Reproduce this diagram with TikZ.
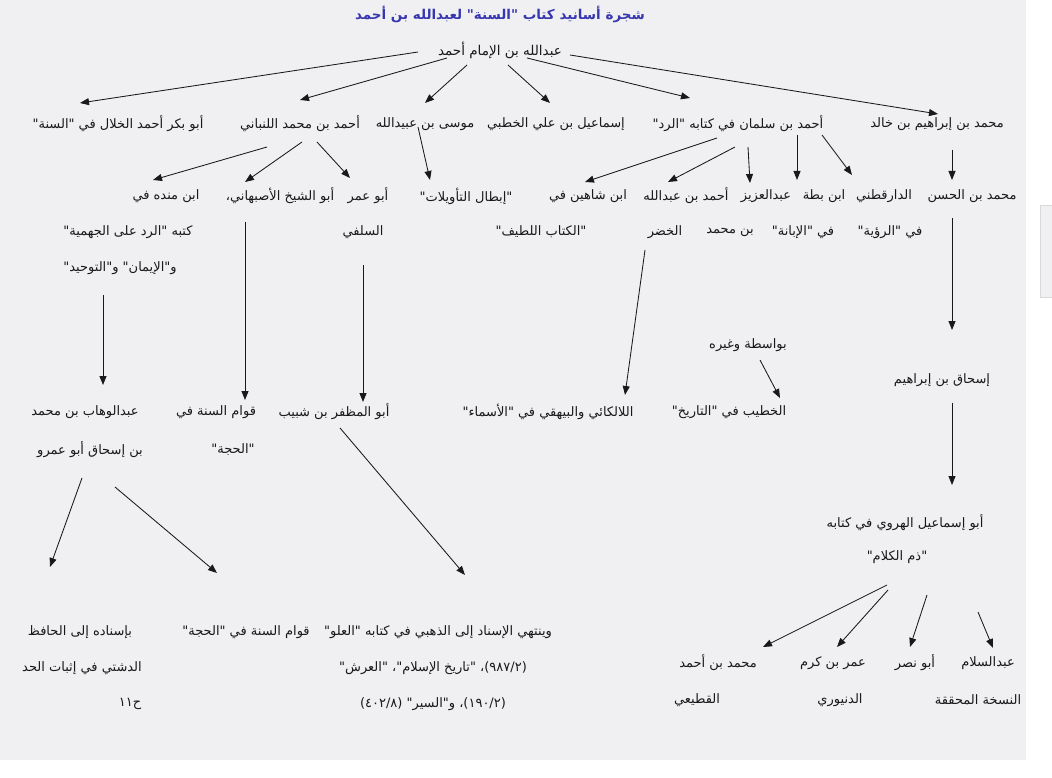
\documentclass[tikz,border=0pt]{standalone}
\usepackage{fontspec}
\setmainfont{DejaVu Sans}
\newfontfamily\arabicfont[Script=Arabic]{DejaVu Sans}
\TeXXeTstate=1
\usetikzlibrary{arrows.meta}
\definecolor{panelbg}{RGB}{240,240,242}
\definecolor{titleblue}{RGB}{55,55,175}
\definecolor{inkc}{RGB}{25,25,25}
\newcommand{\rtl}[1]{\beginR #1\endR}
\begin{document}
\begin{tikzpicture}[x=1pt,y=-1pt,
  lbl/.style={inner sep=1pt,text=inkc,font=\arabicfont\fontsize{13}{15}\selectfont},
  ttl/.style={inner sep=1pt,text=titleblue,font=\arabicfont\bfseries\fontsize{13.5}{15}\selectfont},
  arr/.style={draw=inkc,line width=0.85pt,-{Triangle[length=9pt,width=7pt]}}]
\useasboundingbox (0,0) rectangle (1052,778);
\fill[white] (0,0) rectangle (1052,778);
\fill[panelbg] (0,0) rectangle (1026,760);
\filldraw[fill=panelbg,draw=black!15] (1040,205) rectangle (1054,297);

% title and root
\node[ttl] (title) at (500,14) {\rtl{شجرة أسانيد كتاب "السنة" لعبدالله بن أحمد}};
\node[lbl,font=\arabicfont\fontsize{13.5}{15}\selectfont] (root) at (500,50) {\rtl{عبدالله بن الإمام أحمد}};

% row 1
\node[lbl] (a1) at (937,124) {\rtl{محمد بن إبراهيم بن خالد}};
\node[lbl] (a2) at (738,124) {\rtl{أحمد بن سلمان في كتابه "الرد"}};
\node[lbl] (a3) at (556,124) {\rtl{إسماعيل بن علي الخطبي}};
\node[lbl] (a4) at (425,124) {\rtl{موسى بن عبيدالله}};
\node[lbl] (a5) at (300,124) {\rtl{أحمد بن محمد اللنباني}};
\node[lbl] (a6) at (118,124) {\rtl{أبو بكر أحمد الخلال في "السنة"}};

% row 2
\node[lbl] (b1) at (972,196) {\rtl{محمد بن الحسن}};
\node[lbl] (b2) at (884,196) {\rtl{الدارقطني}};
\node[lbl] (b3) at (824,196) {\rtl{ابن بطة}};
\node[lbl] (b4) at (766,196) {\rtl{عبدالعزيز}};
\node[lbl] (b5) at (686,196) {\rtl{أحمد بن عبدالله}};
\node[lbl] (b6) at (588,196) {\rtl{ابن شاهين في}};
\node[lbl] (b7) at (466,196) {\rtl{"إبطال التأويلات"}};
\node[lbl] (b8) at (368,196) {\rtl{أبو عمر}};
\node[lbl] (b9) at (280,196) {\rtl{أبو الشيخ الأصبهاني،}};
\node[lbl] (b10) at (166,196) {\rtl{ابن منده في}};

% row 3 / 4
\node[lbl] (c2) at (890,232) {\rtl{في "الرؤية"}};
\node[lbl] (c3) at (803,232) {\rtl{في "الإبانة"}};
\node[lbl] (c4) at (730,232) {\rtl{بن محمد}};
\node[lbl] (c5) at (665,232) {\rtl{الخضر}};
\node[lbl] (c6) at (541,232) {\rtl{"الكتاب اللطيف"}};
\node[lbl] (c8) at (363,232) {\rtl{السلفي}};
\node[lbl] (c10) at (128,232) {\rtl{كتبه "الرد على الجهمية"}};
\node[lbl] (d10) at (120,268) {\rtl{و"الإيمان" و"التوحيد"}};

\node[lbl] (e1) at (748,345) {\rtl{بواسطة وغيره}};
\node[lbl] (f1) at (942,380) {\rtl{إسحاق بن إبراهيم}};

% row 6 / 7
\node[lbl] (g1) at (85,412) {\rtl{عبدالوهاب بن محمد}};
\node[lbl] (g2) at (216,412) {\rtl{قوام السنة في}};
\node[lbl] (g3) at (334,412) {\rtl{أبو المظفر بن شبيب}};
\node[lbl] (g4) at (548,412) {\rtl{اللالكائي والبيهقي في "الأسماء"}};
\node[lbl] (g5) at (729,412) {\rtl{الخطيب في "التاريخ"}};
\node[lbl] (h1) at (90,450) {\rtl{بن إسحاق أبو عمرو}};
\node[lbl] (h2) at (233,450) {\rtl{"الحجة"}};

\node[lbl] (i1) at (905,523) {\rtl{أبو إسماعيل الهروي في كتابه}};
\node[lbl] (i2) at (897,557) {\rtl{"ذم الكلام"}};

% bottom left
\node[lbl] (j1) at (80,632) {\rtl{بإسناده إلى الحافظ}};
\node[lbl] (j2) at (82,668) {\rtl{الدشتي في إثبات الحد}};
\node[lbl] (j3) at (130,704) {\rtl{ح١١}};
\node[lbl] (k1) at (246,632) {\rtl{قوام السنة في "الحجة"}};
\node[lbl] (l1) at (438,632) {\rtl{وينتهي الإسناد إلى الذهبي في كتابه "العلو"}};
\node[lbl] (l2) at (433,668) {\rtl{\beginL(٩٨٧/٢)\endL{}، "تاريخ الإسلام"، "العرش"}};
\node[lbl] (l3) at (433,704) {\rtl{\beginL(١٩٠/٢)\endL{}، و"السير" \beginL(٤٠٢/٨)\endL{}}};

% bottom right
\node[lbl] (m1) at (718,663) {\rtl{محمد بن أحمد}};
\node[lbl] (m2) at (833,663) {\rtl{عمر بن كرم}};
\node[lbl] (m3) at (915,663) {\rtl{أبو نصر}};
\node[lbl] (m4) at (988,663) {\rtl{عبدالسلام}};
\node[lbl] (n1) at (697,700) {\rtl{القطيعي}};
\node[lbl] (n2) at (840,700) {\rtl{الدنيوري}};
\node[lbl] (n3) at (978,700) {\rtl{النسخة المحققة}};

% connectors
\draw[arr] ([shift={(-82,2)}]root.center) -- ([shift={(-38,-21)}]a6.center);
\draw[arr] ([shift={(-53,8)}]root.center) -- ([shift={(0,-24)}]a5.center);
\draw[arr] ([shift={(-33,15)}]root.center) -- ([shift={(0,-21)}]a4.center);
\draw[arr] ([shift={(8,15)}]root.center) -- ([shift={(-6,-21)}]a3.center);
\draw[arr] ([shift={(27,8)}]root.center) -- ([shift={(-48,-26)}]a2.center);
\draw[arr] ([shift={(70,5)}]root.center) -- ([shift={(1,-10)}]a1.center);

\draw[arr] ([shift={(-21,14)}]a2.center) -- ([shift={(-3,-14)}]b6.center);
\draw[arr] ([shift={(-3,23)}]a2.center) -- ([shift={(-18,-14)}]b5.center);
\draw[arr] ([shift={(10,23)}]a2.center) -- ([shift={(-16,-13)}]b4.center);
\draw[arr] ([shift={(59,11)}]a2.center) -- ([shift={(-27,-16)}]b3.center);
\draw[arr] ([shift={(84,11)}]a2.center) -- ([shift={(-32,-21)}]b2.center);
\draw[arr] ([shift={(15,26)}]a1.center) -- ([shift={(-20,-16)}]b1.center);

\draw[arr] ([shift={(-7,3)}]a4.center) -- ([shift={(-36,-16)}]b7.center);
\draw[arr] ([shift={(-33,23)}]a5.center) -- ([shift={(-13,-16)}]b10.center);
\draw[arr] ([shift={(2,18)}]a5.center) -- ([shift={(-35,-14)}]b9.center);
\draw[arr] ([shift={(17,18)}]a5.center) -- ([shift={(-18,-18)}]b8.center);

\draw[arr] ([shift={(-20,22)}]b1.center) -- ([shift={(10,-50)}]f1.center);
\draw[arr] ([shift={(10,23)}]f1.center) -- ([shift={(47,-38)}]i1.center);
\draw[arr] ([shift={(-20,18)}]c5.center) -- ([shift={(77,-17)}]g4.center);
\draw[arr] ([shift={(12,15)}]e1.center) -- ([shift={(51,-14)}]g5.center);
\draw[arr] ([shift={(-35,26)}]b9.center) -- ([shift={(29,-12)}]g2.center);
\draw[arr] ([shift={(0,33)}]c8.center) -- ([shift={(29,-10)}]g3.center);
\draw[arr] ([shift={(-17,27)}]d10.center) -- ([shift={(18,-27)}]g1.center);
\draw[arr] ([shift={(6,16)}]g3.center) -- ([shift={(27,-57)}]l1.center);
\draw[arr] ([shift={(-8,28)}]h1.center) -- ([shift={(-30,-65)}]j1.center);
\draw[arr] ([shift={(25,37)}]h1.center) -- ([shift={(-29,-59)}]k1.center);

\draw[arr] ([shift={(-10,28)}]i2.center) -- ([shift={(45,-16)}]m1.center);
\draw[arr] ([shift={(-9,33)}]i2.center) -- ([shift={(4,-16)}]m2.center);
\draw[arr] ([shift={(30,38)}]i2.center) -- ([shift={(-5,-16)}]m3.center);
\draw[arr] ([shift={(81,55)}]i2.center) -- ([shift={(5,-15)}]m4.center);
\end{tikzpicture}
\end{document}
